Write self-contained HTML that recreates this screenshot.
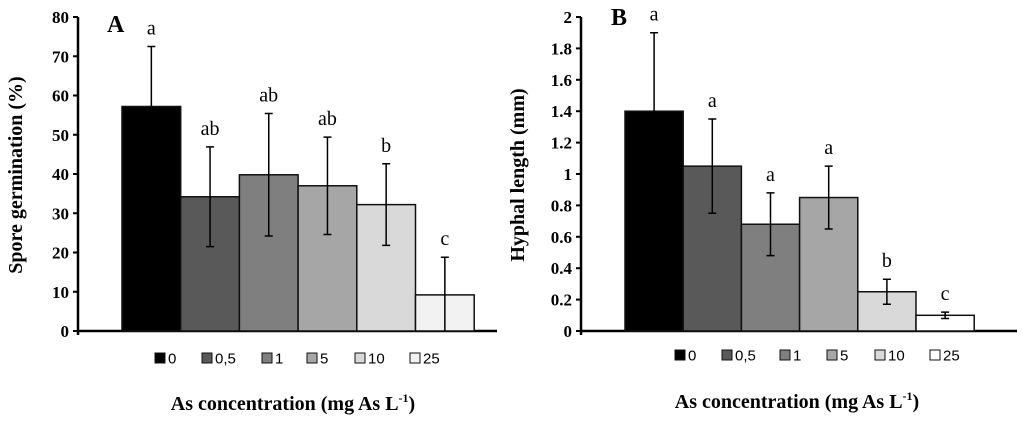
<!DOCTYPE html>
<html><head><meta charset="utf-8"><style>
body{margin:0;background:#fff;width:1024px;height:420px;overflow:hidden}
svg text{font-family:"Liberation Serif",serif}
</style></head><body>
<svg id="c" width="1024" height="420" viewBox="0 0 1024 420" xmlns="http://www.w3.org/2000/svg"></svg>
<script>
const categories = ["0","0,5","1","5","10","25"];
const valuesA = [57.2, 34.2, 39.8, 37.0, 32.2, 9.2];
const errorsA = [15.3, 12.7, 15.6, 12.4, 10.4, 9.6];
const lettersA = ["a","ab","ab","ab","b","c"];
const ticksA = [0,10,20,30,40,50,60,70,80];
const valuesB = [1.4, 1.05, 0.68, 0.85, 0.25, 0.1];
const errorsB = [0.5, 0.3, 0.2, 0.2, 0.08, 0.02];
const lettersB = ["a","a","a","a","b","c"];
const ticksB = [0,0.2,0.4,0.6,0.8,1,1.2,1.4,1.6,1.8,2];
const tickLabelsB = ["0","0.2","0.4","0.6","0.8","1","1.2","1.4","1.6","1.8","2"];
const fillsA = ["#000000","#595959","#7f7f7f","#a6a6a6","#d9d9d9","#f2f2f2"];
const fillsB = ["#000000","#595959","#7f7f7f","#a6a6a6","#d9d9d9","#ffffff"];

const svg = document.getElementById('c');
const NS = "http://www.w3.org/2000/svg";
function mk(tag, attrs, text){
  const e = document.createElementNS(NS, tag);
  for (const k in attrs) e.setAttribute(k, attrs[k]);
  if (text !== undefined) e.textContent = text;
  svg.appendChild(e);
  return e;
}

function panel(o){
  const y = v => o.y0 - (v / o.max) * (o.y0 - o.y1);
  const x = i => o.bx0 + i * o.bw;
  let e = mk('line',{x1:o.ax,y1:o.y1,x2:o.ax,y2:o.y0+4,stroke:'#000','stroke-width':2.5});
  
  
  e = mk('line',{x1:o.ax,y1:o.y0,x2:o.axEnd,y2:o.y0,stroke:'#000','stroke-width':2.5});
  
  
  o.ticks.forEach((t,k)=>{
    const tk = mk('line',{x1:o.ax-5,y1:y(t),x2:o.ax,y2:y(t),stroke:'#000','stroke-width':2});
    
    
    const tl = mk('text',{x:o.ax-9,y:y(t)+6,'text-anchor':'end','font-size':17,'font-weight':'bold'}, o.tickLabels[k]);
    
    
  });
  o.values.forEach((v,i)=>{
    const b = mk('rect',{x:x(i),y:y(v),width:o.bw,height:o.y0-y(v),fill:o.fills[i],stroke:'#111','stroke-width':1.5});
    
    
    const cx = x(i)+o.bw/2, top = y(v+o.errors[i]), bot = y(Math.max(0,v-o.errors[i]));
    const eb = mk('path',{d:`M${cx},${top}V${bot}M${cx-4},${top}H${cx+4}`+(v-o.errors[i]>0?`M${cx-4},${bot}H${cx+4}`:''),stroke:'#000','stroke-width':1.5,fill:'none'});
    
    
    const lt = mk('text',{x:cx,y:top-12,'text-anchor':'middle','font-size':20}, o.letters[i]);
    
    
  });
  categories.forEach((c,i)=>{
    const lx = o.legX[i];
    const s = mk('rect',{x:lx,y:o.legY-5,width:10,height:10,fill:o.fills[i],stroke:'#111','stroke-width':1});
    
    
    const t = mk('text',{x:lx+13,y:o.legY+5.5,'font-size':15,style:'font-family:"Liberation Sans",sans-serif'}, c);
    
    
  });
  const lab = mk('text',{x:o.labX,y:o.labY,'font-size':24,'font-weight':'bold'}, o.label);
  
  
  const xt = mk('text',{x:o.xtX,y:o.xtY,'text-anchor':'middle','font-size':20,'font-weight':'bold'});
  xt.innerHTML = 'As concentration (mg As L<tspan dy="-8" font-size="12">-1</tspan><tspan dy="8">)</tspan>';
  
  
  const yt = mk('text',{x:0,y:0,'text-anchor':'middle','font-size':20,'font-weight':'bold',transform:`translate(${o.ytX},${o.ytY}) rotate(-90)`}, o.yTitle);
  
  
}

panel({id:'a',values:valuesA,errors:errorsA,letters:lettersA,ticks:ticksA,tickLabels:ticksA.map(String),fills:fillsA,
  max:80,y0:331,y1:17,ax:78,axEnd:497,bx0:122,bw:58.7,
  legX:[155,202,262,307,355,410],legY:358,label:'A',labX:107,labY:32,
  xtX:293,xtY:410,ytX:22,ytY:175,yTitle:'Spore germination (%)'});
panel({id:'b',values:valuesB,errors:errorsB,letters:lettersB,ticks:ticksB,tickLabels:tickLabelsB,fills:fillsB,
  max:2,y0:331,y1:17,ax:581,axEnd:1017,bx0:625,bw:58.2,
  legX:[675,722,780,827,875,930],legY:355,label:'B',labX:611,labY:25,
  xtX:797,xtY:408,ytX:524,ytY:175,yTitle:'Hyphal length (mm)'});
</script>
</body></html>
